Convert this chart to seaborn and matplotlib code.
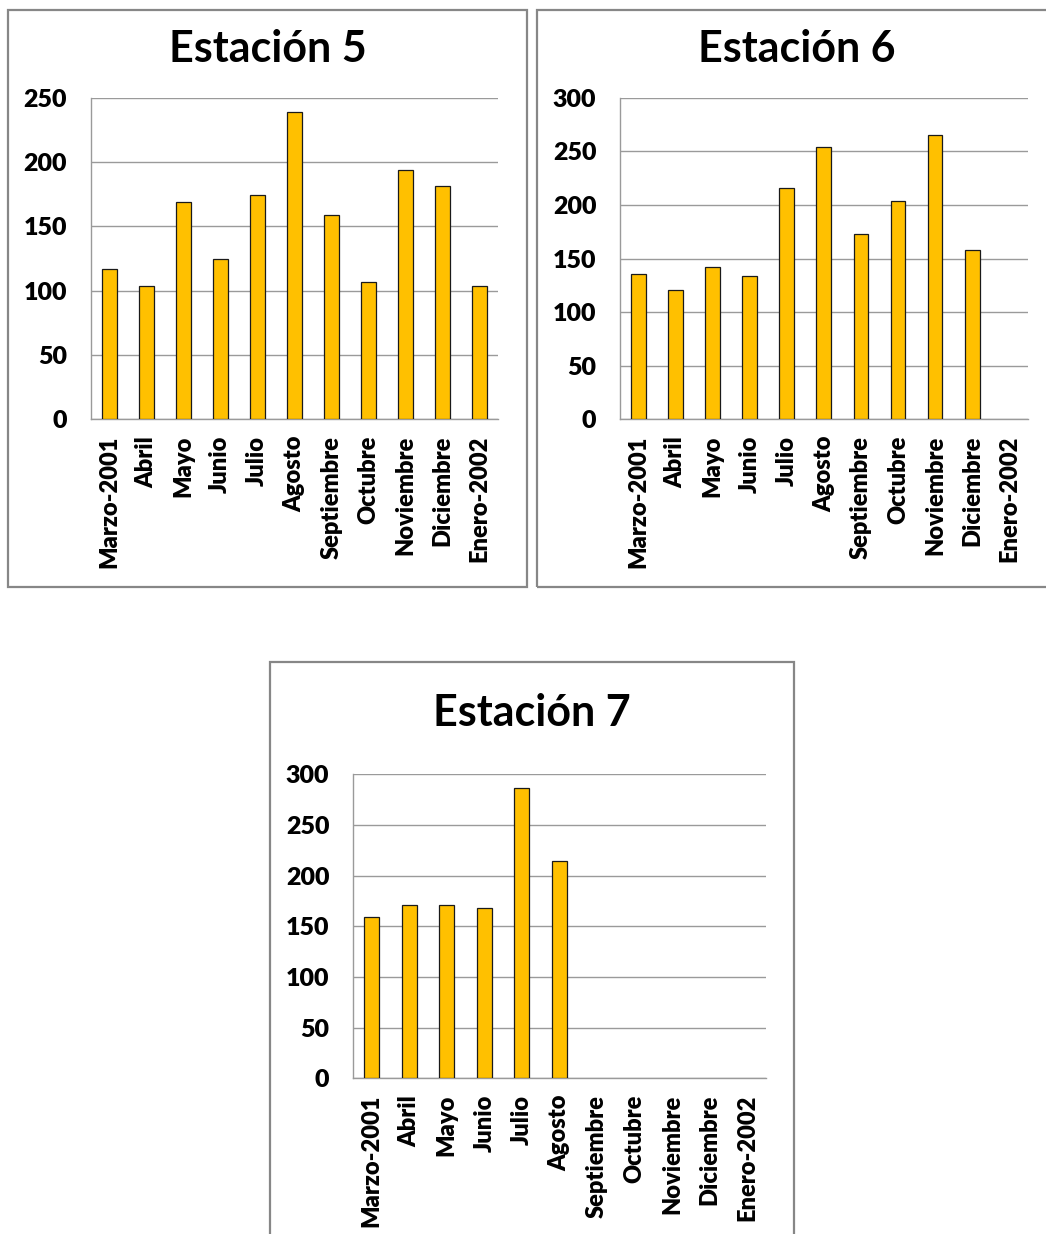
import pandas as pd
import matplotlib
matplotlib.use('Agg')
import matplotlib.pyplot as plt
import seaborn as sns
from matplotlib.patches import Rectangle

# =========================
# DATOS
# =========================
meses = ['Marzo-2001', 'Abril', 'Mayo', 'Junio', 'Julio', 'Agosto',
         'Septiembre', 'Octubre', 'Noviembre', 'Diciembre', 'Enero-2002']

est5 = [117, 104, 169, 125, 174, 239, 159, 107, 194, 181, 104]
est6 = [136, 121, 142, 134, 216, 254, 173, 204, 265, 158]
est7 = [159, 171, 171, 168, 286, 214]

titulos = ['Estación 5', 'Estación 6', 'Estación 7']
ymax = [250, 300, 300]

# =========================
# ESTILO
# =========================
sns.set_style('white')
plt.rcParams['font.family'] = ['Lato', 'DejaVu Sans']
plt.rcParams['text.color'] = 'black'
plt.rcParams['xtick.color'] = 'black'
plt.rcParams['ytick.color'] = 'black'

W, H = 1046, 1234
fig = plt.figure(figsize=(W / 100, H / 100), dpi=100)


def px_axes(l, t, r, b):
    return [l / W, 1 - b / H, (r - l) / W, (b - t) / H]


# posiciones en pixeles: (ejes), (marco), centro del titulo
paneles = [
    ((90.7, 97.7, 497.7, 419.3), (8, 10, 527, 587), (268, 49)),
    ((620, 97.7, 1027.7, 419.3), (537, 10, 1060, 587), (797, 49)),
    ((353, 774.3, 766, 1078.3), (270, 662, 793.5, 1250), (532, 713)),
]

for datos, titulo, ym, (ax_px, marco, tpos) in zip([est5, est6, est7], titulos, ymax, paneles):
    # marco del grafico
    l, t, r, b = marco
    fig.patches.append(Rectangle((l / W, 1 - b / H), (r - l) / W, (b - t) / H,
                                 transform=fig.transFigure, fill=False,
                                 edgecolor='#878787', linewidth=1.6))

    ax = fig.add_axes(px_axes(*ax_px))
    df = pd.DataFrame({'mes': meses[:len(datos)], 'valor': datos})
    sns.barplot(data=df, x='mes', y='valor', order=meses, ax=ax,
                color='#FFC000', saturation=1, width=0.4,
                edgecolor='#1a1a1a', linewidth=0.9, zorder=3)

    ax.set_ylim(0, ym)
    ax.set_xlim(-0.5, len(meses) - 0.5)
    ax.set_xlabel('')
    ax.set_ylabel('')
    yt = list(range(0, ym + 1, 50))
    ax.set_yticks(yt)
    ax.set_yticklabels([str(v) for v in yt], fontweight='heavy', fontsize=18)
    ax.set_xticks(range(len(meses)))
    ax.set_xticklabels(meses, rotation=90, fontweight='heavy', fontsize=17)
    ax.grid(axis='y', color='#9a9a9a', linewidth=1.0, zorder=0)
    ax.set_axisbelow(True)
    for s in ['top', 'right']:
        ax.spines[s].set_visible(False)
    for s in ['left', 'bottom']:
        ax.spines[s].set_color('#9a9a9a')
        ax.spines[s].set_linewidth(1.0)
    ax.tick_params(axis='y', length=0, pad=17)
    ax.tick_params(axis='x', length=0, pad=12)

    fig.text(tpos[0] / W, 1 - tpos[1] / H, titulo, ha='center', va='center',
             fontsize=31, fontweight='bold', color='black')

fig.savefig('out.png', dpi=100)
